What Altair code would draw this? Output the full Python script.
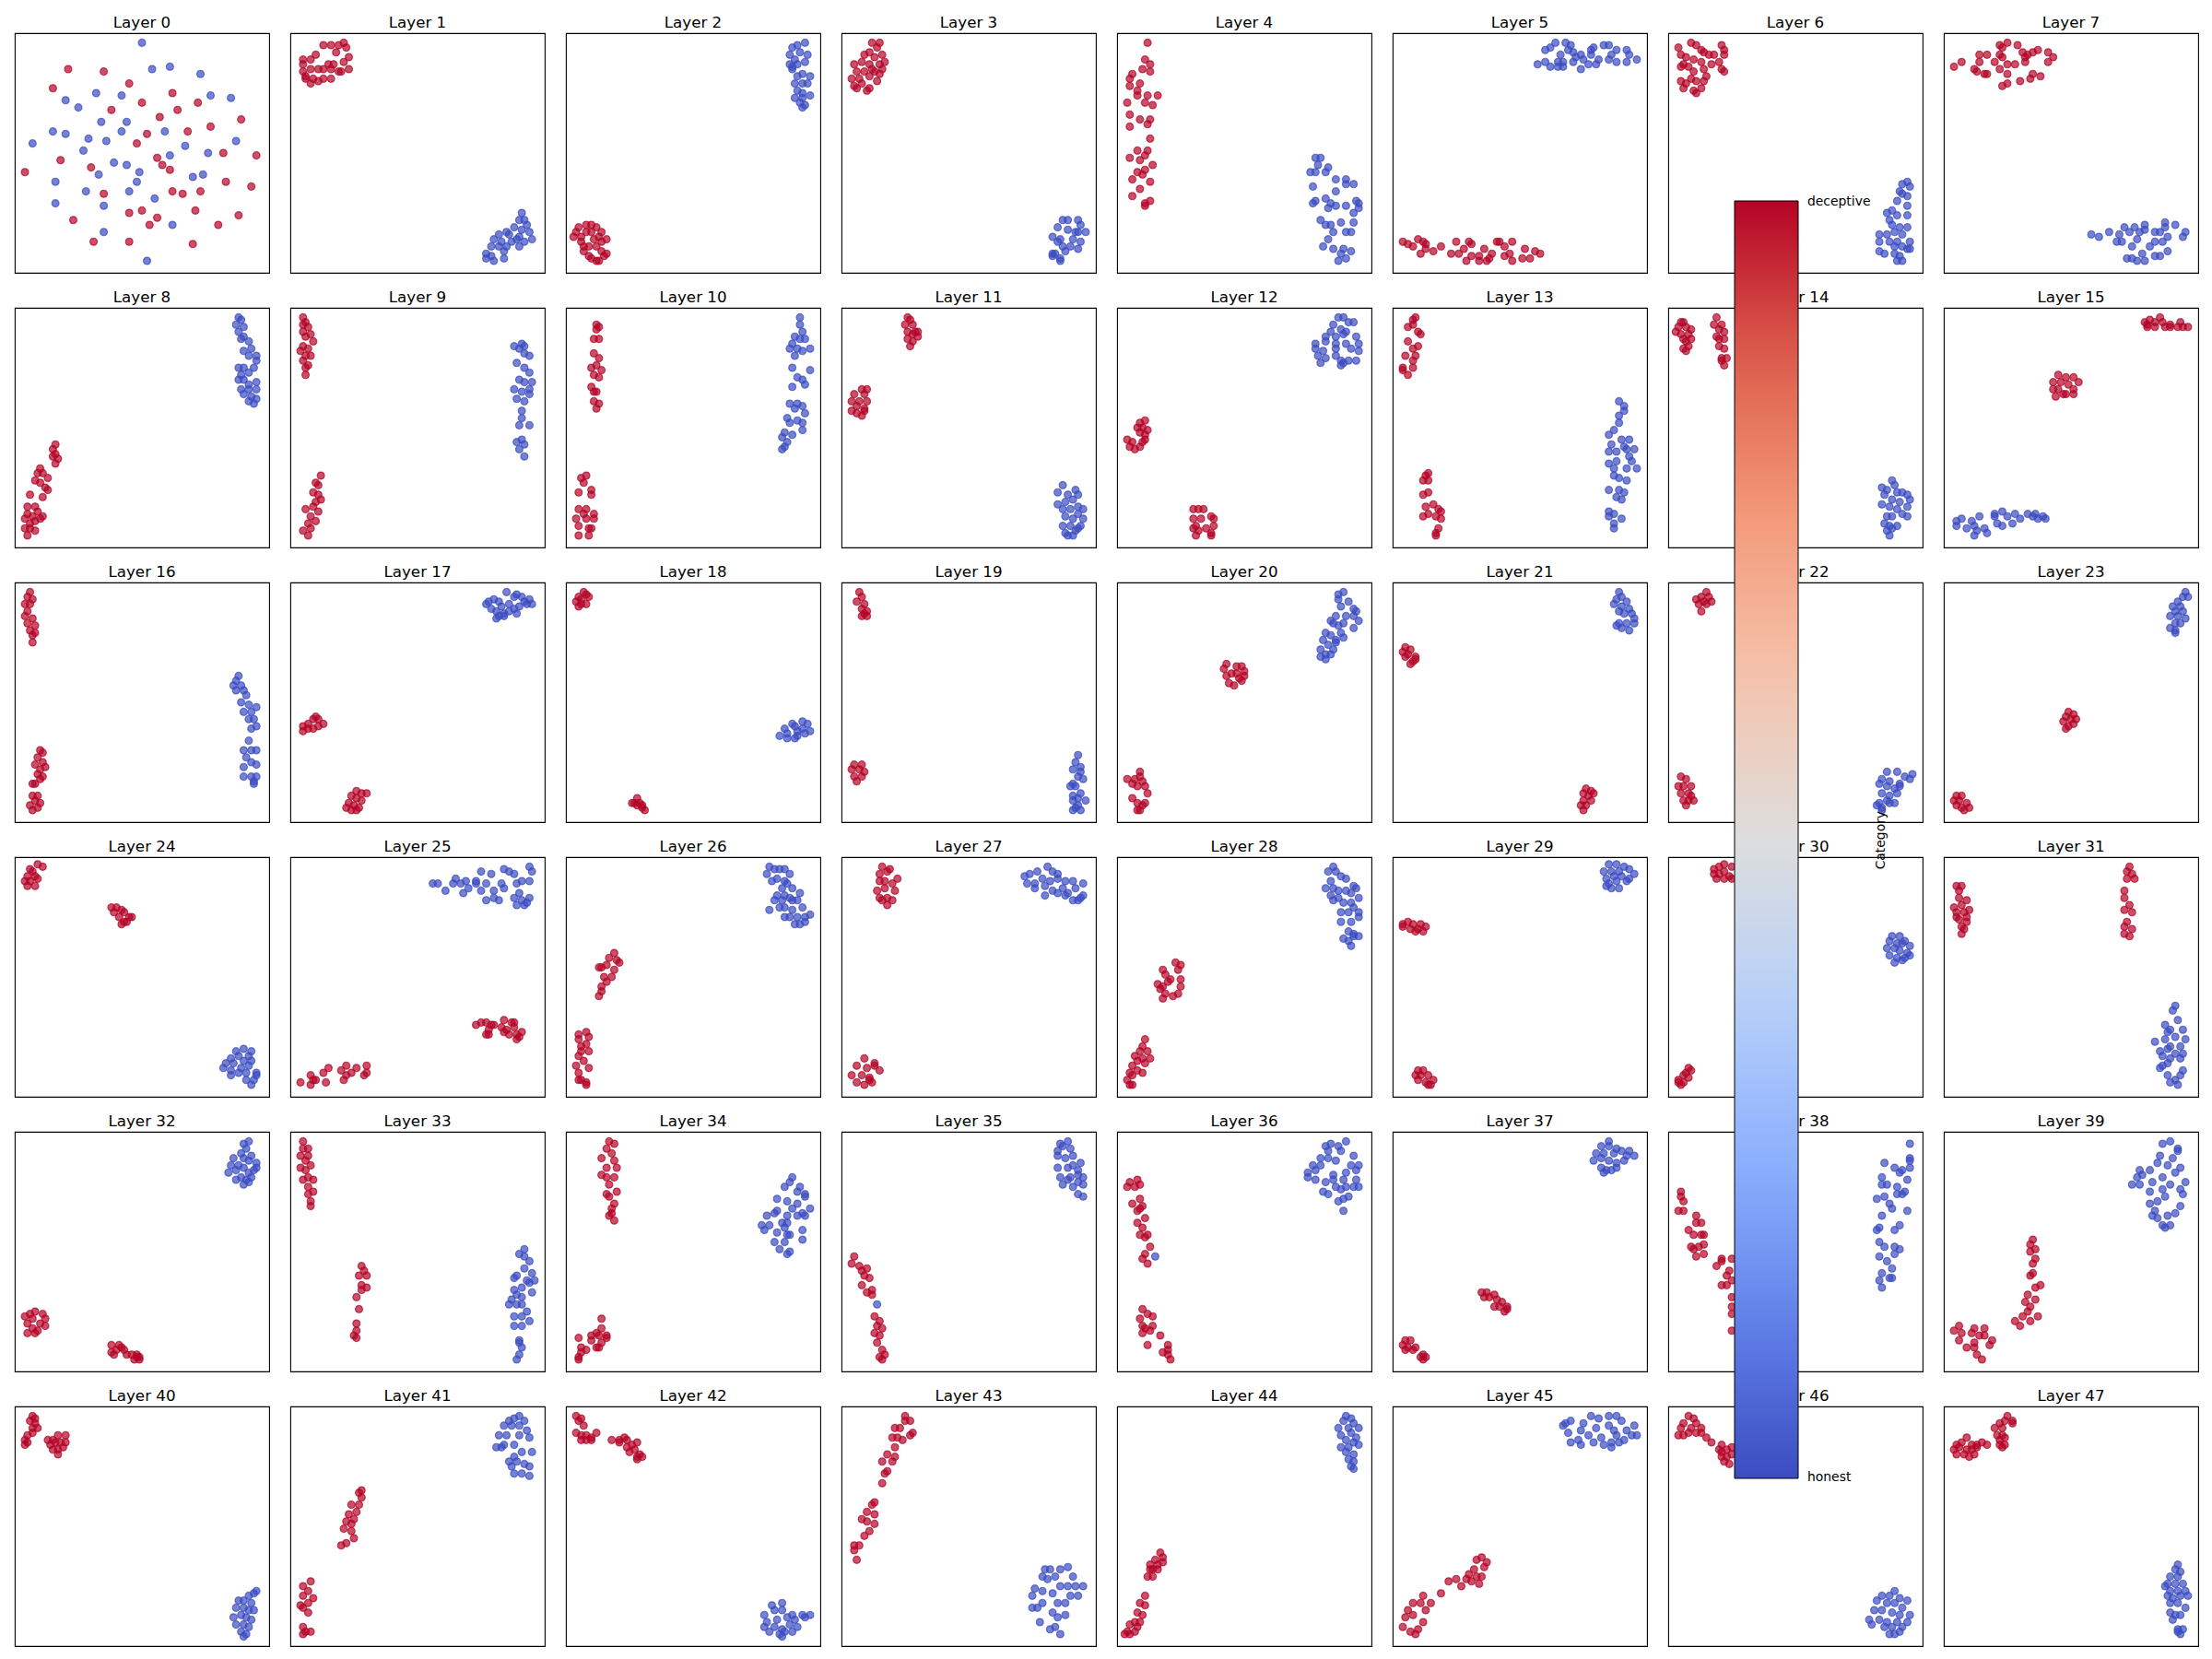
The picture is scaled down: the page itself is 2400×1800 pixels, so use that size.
import altair as alt
import pandas as pd

# Points, in panel-relative units (0..100 on both axes).
HONEST = {
0: [(50,96),(54,85),(61,86),(73,83),(32,75),(42,74),(20,72),(25,69),(77,74),(85,73),(34,63),(44,63),(15,59),(20,58),(42,59),(59,59),(7,54),(29,56),(36,55),(67,53),(87,55),(27,51),(76,50),(61,49),(39,46),(44,45),(49,42),(33,41),(16,38),(70,40),(74,41),(48,38),(28,34),(45,34),(16,29),(35,28),(55,31),(62,20),(35,17),(52,5)],
1: [(91,25),(92,22),(93,20),(90,22),(88,19),(91,18),(94,17),(95,14),(92,13),(90,11),(89,14),(86,16),(85,17),(82,16),(80,14),(83,13),(85,11),(82,11),(79,11),(77,8),(79,7),(84,9),(84,6),(77,6),(80,5),(87,13),(90,15)],
2: [(94,96),(91,95),(89,94),(88,91),(92,92),(95,91),(94,88),(90,89),(88,87),(91,87),(89,85),(93,83),(96,82),(91,82),(90,79),(93,79),(95,79),(91,76),(93,75),(96,74),(90,73),(93,73),(92,71),(93,69),(94,70),(89,86)],
3: [(87,22),(89,22),(93,22),(94,20),(96,17),(92,17),(89,18),(85,19),(83,15),(86,14),(91,14),(94,13),(93,10),(90,11),(87,11),(85,13),(83,8),(84,8),(86,6),(86,5),(88,9),(93,17),(83,7)],
4: [(78,48),(80,48),(79,45),(83,44),(76,42),(78,42),(82,42),(86,39),(90,39),(93,37),(90,37),(77,36),(86,34),(82,31),(78,30),(77,29),(84,29),(86,28),(90,28),(83,27),(94,30),(95,29),(95,27),(93,25),(80,22),(82,20),(84,20),(88,21),(93,21),(85,17),(90,17),(92,17),(83,14),(81,11),(85,10),(89,10),(92,9),(88,8),(90,6),(87,5)],
5: [(57,87),(60,88),(62,86),(60,93),(62,94),(64,96),(68,96),(70,95),(71,92),(66,91),(65,88),(65,86),(67,86),(67,88),(71,88),(74,85),(74,91),(72,90),(77,87),(78,93),(79,94),(78,91),(80,87),(81,89),(83,95),(85,95),(85,89),(88,93),(86,91),(88,88),(92,93),(92,88),(93,91),(96,89),(75,89),(69,93)],
6: [(94,38),(92,37),(95,36),(91,34),(92,33),(94,32),(90,30),(94,28),(86,25),(88,26),(90,24),(94,24),(87,22),(88,20),(91,19),(94,19),(83,16),(86,16),(89,17),(92,16),(83,13),(87,13),(90,13),(95,13),(89,11),(92,11),(94,10),(95,10),(83,9),(85,8),(89,8),(90,5),(92,5),(91,7)],
7: [(58,16),(61,15),(65,17),(68,13),(69,16),(71,19),(73,17),(75,19),(74,11),(76,14),(77,17),(79,20),(79,18),(74,6),(76,5),(78,8),(79,5),(81,11),(83,17),(83,13),(85,17),(86,13),(83,7),(85,7),(87,21),(87,19),(88,15),(91,20),(88,9),(95,17),(94,15),(70,13),(72,6)],
8: [(88,96),(89,95),(87,93),(90,92),(88,90),(90,88),(89,87),(92,86),(90,82),(93,83),(95,80),(92,80),(95,78),(88,75),(90,75),(94,75),(89,72),(92,73),(88,70),(90,70),(92,68),(95,69),(89,66),(92,66),(95,66),(90,64),(93,63),(95,62),(92,61),(94,60)],
9: [(88,84),(91,85),(92,84),(90,83),(92,81),(94,80),(89,77),(92,75),(94,73),(90,70),(92,69),(95,69),(94,66),(88,66),(91,65),(94,64),(89,62),(92,61),(91,57),(91,54),(90,51),(94,51),(91,45),(89,44),(92,43),(90,41),(92,38)],
10: [(92,96),(92,93),(93,90),(90,88),(92,87),(94,87),(89,85),(91,83),(88,83),(93,82),(96,83),(90,80),(89,75),(96,74),(91,71),(93,70),(94,68),(89,67),(88,60),(91,60),(93,59),(90,58),(94,56),(87,54),(91,53),(88,52),(93,52),(93,49),(86,48),(89,47),(85,46),(87,44),(86,42),(85,41)],
11: [(87,26),(92,24),(85,23),(89,22),(93,22),(85,18),(88,19),(91,20),(93,17),(87,16),(90,16),(93,14),(95,16),(88,13),(91,12),(95,12),(87,9),(90,9),(93,8),(94,9),(88,6),(91,5),(89,5),(92,7)],
12: [(87,96),(89,96),(91,94),(93,94),(85,93),(88,91),(90,90),(84,90),(82,88),(86,88),(89,89),(94,88),(78,85),(82,86),(86,85),(90,85),(95,85),(78,83),(81,82),(86,83),(92,83),(95,82),(79,80),(82,79),(86,80),(88,78),(91,78),(94,78),(80,77),(88,76),(89,77)],
13: [(89,61),(91,59),(91,57),(89,55),(89,52),(87,49),(85,47),(90,45),(93,45),(86,43),(91,42),(92,41),(95,41),(85,40),(88,40),(93,38),(85,35),(88,36),(94,36),(87,33),(92,33),(96,33),(87,30),(89,29),(92,28),(85,24),(89,24),(91,23),(88,21),(90,20),(85,15),(87,14),(85,13),(90,12),(87,10),(87,8)],
14: [(88,28),(89,26),(84,25),(86,24),(90,23),(92,23),(94,22),(95,20),(85,22),(88,20),(91,19),(84,18),(87,17),(90,16),(94,17),(86,13),(88,13),(92,14),(94,13),(85,10),(87,9),(90,9),(86,7),(88,8),(87,5)],
15: [(5,11),(5,9),(7,12),(9,8),(11,11),(12,9),(14,13),(13,7),(12,5),(16,8),(17,6),(20,13),(21,10),(23,15),(23,9),(25,13),(27,10),(28,14),(30,12),(33,14),(35,13),(36,14),(37,12),(39,13),(40,12),(20,14)],
16: [(88,61),(87,59),(89,57),(86,57),(90,55),(87,55),(91,53),(89,50),(92,49),(95,48),(90,46),(93,46),(92,43),(94,43),(95,40),(93,39),(92,34),(90,30),(93,30),(95,30),(91,27),(93,25),(95,24),(90,23),(93,19),(95,19),(90,19),(94,17),(94,16)],
17: [(85,96),(89,95),(77,91),(78,92),(80,93),(82,92),(79,89),(81,88),(83,90),(86,91),(88,94),(91,94),(94,93),(95,91),(93,91),(90,90),(88,89),(86,88),(84,87),(82,86),(81,85),(84,86),(89,87),(92,92)],
18: [(89,41),(93,42),(95,41),(86,39),(90,40),(93,39),(96,38),(84,36),(87,37),(91,36),(94,37),(90,35),(87,35),(91,38)],
19: [(93,28),(92,25),(94,23),(91,22),(94,21),(93,19),(91,16),(95,18),(92,15),(90,15),(94,12),(91,11),(93,10),(91,9),(96,9),(93,7),(91,5),(94,5),(92,6)],
20: [(87,95),(89,96),(87,93),(91,92),(88,90),(93,89),(94,88),(90,86),(93,86),(86,86),(95,84),(84,84),(85,83),(87,82),(89,83),(93,81),(82,79),(84,78),(86,76),(88,79),(89,77),(81,76),(83,74),(80,72),(85,72),(82,70),(84,70),(80,69),(82,68),(86,75)],
21: [(89,96),(90,94),(88,93),(92,92),(87,91),(90,90),(93,89),(89,88),(94,87),(91,87),(95,85),(89,83),(92,83),(95,83),(90,81),(93,80),(88,82)],
22: [(86,21),(90,21),(93,19),(96,20),(84,18),(87,17),(91,16),(95,18),(83,16),(86,15),(89,14),(91,15),(84,12),(87,11),(90,12),(86,9),(89,8),(83,8),(84,6),(82,7),(87,8),(84,5)],
23: [(95,96),(94,94),(96,94),(92,92),(90,90),(93,90),(91,88),(94,88),(89,86),(92,86),(95,85),(91,83),(93,83),(89,81),(91,80),(91,79)],
24: [(87,19),(90,20),(93,19),(85,16),(88,17),(92,17),(83,14),(86,14),(90,15),(93,15),(82,12),(85,11),(89,12),(92,13),(85,9),(88,10),(91,10),(95,10),(91,7),(94,7),(93,5),(95,9)],
25: [(56,89),(58,89),(61,86),(65,91),(67,89),(68,85),(69,90),(73,90),(73,89),(75,94),(75,86),(77,89),(79,93),(80,86),(77,82),(80,83),(82,82),(83,89),(84,95),(84,87),(86,94),(88,93),(89,89),(91,90),(88,83),(90,85),(89,80),(92,80),(91,82),(94,83),(94,96),(95,94),(94,90),(70,87),(64,89),(93,81)],
26: [(80,96),(82,95),(84,95),(86,95),(79,93),(88,93),(81,90),(83,91),(86,90),(87,89),(85,87),(89,87),(92,85),(83,84),(86,84),(88,83),(91,82),(82,82),(85,82),(89,82),(80,78),(84,79),(86,79),(89,78),(93,79),(86,75),(88,75),(91,75),(94,75),(96,76),(90,72),(92,72),(94,73)],
27: [(72,92),(74,93),(77,94),(81,96),(83,94),(85,93),(73,89),(76,89),(79,91),(82,90),(85,91),(88,90),(91,90),(95,89),(76,87),(80,88),(83,86),(87,87),(89,85),(92,87),(80,84),(85,85),(88,84),(91,82),(93,82),(94,83),(95,84)],
28: [(85,96),(83,94),(86,94),(88,92),(84,90),(90,91),(82,87),(85,87),(87,86),(90,86),(93,88),(94,87),(84,84),(87,83),(92,85),(95,83),(85,82),(89,81),(92,81),(93,79),(88,77),(91,77),(95,77),(88,73),(92,73),(95,75),(91,69),(93,68),(95,67),(89,66),(91,65),(92,63),(93,67)],
29: [(85,97),(88,97),(91,96),(93,95),(83,94),(86,94),(89,94),(95,93),(84,91),(87,92),(90,92),(93,91),(85,89),(88,90),(92,90),(86,87),(89,87),(84,88)],
30: [(88,67),(91,67),(93,65),(87,65),(90,64),(92,64),(95,63),(86,62),(89,62),(91,61),(94,60),(87,59),(90,58),(93,58),(95,59),(89,56),(92,57)],
31: [(91,38),(90,36),(92,32),(87,30),(89,28),(94,28),(88,27),(91,25),(95,24),(83,23),(87,24),(89,21),(93,21),(85,19),(88,20),(91,18),(94,18),(86,17),(89,16),(93,16),(85,12),(88,14),(94,11),(88,9),(91,7),(93,9),(89,6),(92,5),(86,13)],
32: [(92,96),(90,95),(91,93),(89,91),(93,90),(86,89),(90,89),(92,88),(95,87),(85,86),(88,86),(90,85),(94,84),(95,85),(84,83),(87,84),(92,83),(89,81),(93,81),(87,80),(91,80),(90,78),(92,79)],
33: [(92,51),(90,49),(92,48),(94,46),(88,39),(89,40),(92,43),(95,41),(93,38),(96,38),(94,37),(88,34),(91,35),(95,33),(89,32),(87,30),(91,31),(86,28),(89,28),(91,28),(93,25),(88,23),(91,23),(94,21),(88,19),(91,19),(90,13),(90,12),(91,10),(90,7),(89,5)],
34: [(89,81),(88,79),(86,77),(92,77),(91,75),(94,74),(94,73),(83,72),(87,71),(91,70),(89,68),(96,68),(93,66),(94,65),(83,67),(87,65),(91,65),(79,65),(82,66),(85,62),(87,62),(77,61),(80,61),(78,59),(83,58),(86,60),(88,57),(87,57),(93,59),(93,55),(82,54),(86,54),(84,51),(87,49),(88,50)],
35: [(86,95),(89,96),(85,92),(87,94),(90,93),(88,89),(91,90),(94,87),(85,85),(89,85),(91,86),(93,84),(86,81),(90,81),(93,82),(95,81),(87,78),(91,77),(93,79),(95,78),(93,74),(95,73),(89,80),(85,90),(14,28)],
36: [(82,94),(84,95),(87,94),(90,96),(83,92),(88,92),(93,90),(80,89),(83,89),(86,88),(77,86),(80,86),(92,86),(95,86),(75,83),(78,84),(85,82),(90,83),(94,84),(75,81),(78,80),(82,79),(85,80),(89,80),(94,80),(86,77),(88,76),(90,77),(93,77),(95,77),(81,75),(83,74),(89,72),(91,73),(87,71),(89,67),(15,48)],
37: [(85,96),(82,94),(85,94),(88,93),(90,92),(93,92),(95,90),(80,91),(83,91),(87,91),(92,90),(79,88),(82,89),(85,88),(88,87),(91,88),(82,85),(84,84),(86,84),(88,85),(83,83)],
38: [(95,95),(95,89),(95,88),(85,87),(89,85),(92,84),(95,85),(91,83),(94,80),(84,81),(84,78),(86,78),(90,77),(93,75),(82,72),(85,73),(90,74),(92,74),(87,70),(88,68),(94,67),(84,65),(91,61),(83,60),(82,59),(89,59),(83,54),(85,52),(89,52),(91,51),(89,49),(83,48),(86,46),(88,43),(84,41),(83,38),(87,39),(88,39),(84,35)],
39: [(86,95),(89,96),(92,93),(92,92),(85,90),(84,87),(88,86),(90,89),(93,85),(81,84),(77,84),(78,82),(76,81),(91,83),(86,81),(74,78),(77,78),(82,79),(86,76),(89,78),(93,76),(95,79),(81,75),(87,73),(94,74),(81,70),(84,71),(93,69),(83,67),(88,65),(91,66),(82,65),(84,64),(86,61),(89,61),(87,60)],
40: [(95,23),(94,22),(92,21),(88,19),(90,19),(93,18),(87,16),(90,16),(92,15),(94,15),(86,12),(89,13),(91,12),(93,11),(87,9),(90,9),(92,8),(89,6),(91,5),(90,4)],
41: [(86,94),(88,95),(90,96),(92,94),(84,92),(87,92),(90,92),(93,90),(82,88),(85,88),(90,88),(94,87),(81,83),(84,84),(88,84),(91,81),(95,81),(88,79),(86,77),(89,77),(92,76),(94,75),(87,75),(88,72),(91,72),(94,71),(83,83)],
42: [(81,17),(85,18),(78,13),(82,15),(85,15),(89,13),(93,13),(96,13),(79,10),(83,11),(87,12),(90,11),(94,12),(78,8),(82,8),(85,7),(88,9),(91,8),(80,6),(84,5),(86,6),(89,6),(85,4)],
43: [(80,32),(82,32),(86,32),(89,33),(79,29),(81,28),(84,29),(91,29),(76,24),(79,23),(83,22),(86,25),(89,25),(92,25),(95,25),(93,21),(90,21),(75,21),(77,16),(79,18),(75,16),(83,14),(85,18),(88,18),(85,12),(88,13),(78,10),(82,7),(86,5),(84,8)],
44: [(90,96),(92,95),(89,94),(93,93),(87,91),(91,91),(95,91),(88,88),(92,89),(94,87),(90,86),(93,85),(88,83),(91,83),(95,84),(90,81),(93,80),(91,78),(93,77),(92,75),(93,74)],
45: [(67,92),(68,93),(70,94),(75,93),(78,96),(81,95),(85,96),(88,96),(90,94),(69,89),(73,86),(74,90),(77,88),(80,91),(82,87),(85,92),(87,90),(88,88),(92,90),(95,92),(96,88),(70,85),(74,84),(79,85),(83,84),(86,83),(89,85),(94,88),(91,86),(86,85)],
46: [(89,23),(87,21),(91,20),(84,21),(82,19),(94,19),(86,18),(89,18),(92,16),(81,15),(84,15),(88,14),(91,13),(95,13),(79,11),(83,11),(86,10),(90,10),(94,10),(80,9),(85,8),(88,8),(92,8),(87,5),(89,5),(91,6)],
47: [(92,34),(91,32),(93,31),(89,29),(92,29),(88,26),(91,26),(94,26),(87,25),(89,23),(92,23),(95,23),(88,21),(90,20),(93,21),(96,21),(89,18),(92,18),(95,16),(89,14),(91,13),(93,13),(90,11),(92,7),(94,7),(93,5),(92,6)],
}

DECEPTIVE = {
0: [(21,85),(35,84),(15,77),(45,79),(62,75),(50,71),(72,71),(38,68),(64,68),(57,65),(89,64),(77,61),(68,59),(52,58),(48,54),(82,50),(95,49),(18,47),(56,48),(58,45),(30,44),(61,43),(4,42),(83,38),(93,36),(35,33),(62,34),(66,33),(73,34),(45,25),(50,26),(71,26),(56,23),(88,24),(23,22),(53,20),(80,20),(31,13),(45,13),(70,12)],
1: [(13,95),(16,95),(19,95),(21,96),(22,94),(18,92),(23,90),(10,91),(8,89),(5,89),(5,87),(15,87),(17,87),(21,88),(23,85),(11,85),(13,85),(16,85),(19,84),(8,85),(5,84),(6,82),(9,81),(11,80),(13,81),(16,81),(20,84),(6,81),(8,79)],
2: [(5,19),(8,20),(10,20),(12,19),(14,17),(16,14),(14,13),(11,14),(8,17),(6,15),(3,15),(6,13),(9,11),(12,11),(14,9),(15,7),(13,5),(12,5),(10,6),(7,9),(7,11),(4,17),(10,17),(13,15),(9,7),(16,8)],
3: [(12,96),(15,96),(14,94),(11,92),(9,91),(16,91),(13,90),(5,87),(8,88),(11,87),(15,87),(17,88),(6,84),(9,84),(13,84),(15,83),(4,81),(7,81),(11,82),(14,80),(5,78),(8,79),(11,77),(10,76),(6,77),(12,85),(16,85)],
4: [(12,96),(11,89),(13,87),(10,85),(13,84),(6,83),(5,81),(9,79),(5,78),(8,76),(8,74),(12,74),(16,74),(4,71),(11,71),(14,70),(5,66),(9,64),(13,64),(5,61),(12,62),(13,56),(8,51),(12,51),(5,48),(9,47),(11,49),(14,45),(11,43),(8,42),(6,39),(10,41),(13,38),(9,35),(6,32),(11,29),(13,30),(11,28)],
5: [(4,13),(6,12),(8,11),(10,14),(12,13),(13,12),(11,8),(13,10),(16,9),(19,11),(23,8),(25,13),(26,8),(28,10),(30,13),(31,12),(29,5),(31,7),(34,5),(36,10),(37,5),(38,6),(39,8),(41,13),(42,13),(44,11),(44,7),(47,13),(46,8),(47,5),(51,6),(52,10),(54,6),(56,9),(58,8),(34,7)],
6: [(4,94),(9,96),(11,95),(21,95),(22,93),(5,91),(7,90),(13,93),(14,92),(10,89),(16,91),(18,91),(22,91),(20,88),(13,88),(6,87),(8,86),(17,87),(5,86),(21,85),(14,85),(10,84),(22,84),(5,80),(7,79),(9,81),(11,80),(14,80),(15,82),(6,77),(10,76),(13,77),(11,75)],
7: [(4,86),(7,88),(12,85),(14,91),(14,88),(17,91),(16,83),(17,83),(20,88),(22,95),(23,94),(25,96),(22,91),(23,90),(22,85),(25,87),(25,83),(23,78),(25,79),(28,87),(29,95),(30,80),(31,92),(32,90),(33,91),(32,88),(34,81),(35,83),(37,93),(35,92),(38,82),(41,92),(41,88),(43,90),(13,84)],
8: [(16,43),(15,41),(16,39),(15,38),(17,37),(16,35),(10,33),(9,31),(11,31),(13,29),(8,28),(10,27),(12,25),(13,24),(11,21),(6,22),(5,17),(8,17),(9,15),(5,14),(7,13),(11,13),(4,12),(8,11),(6,10),(10,12),(4,8),(6,8),(8,7),(5,5)],
9: [(5,96),(6,94),(5,93),(7,92),(5,90),(8,89),(6,88),(9,86),(5,84),(7,83),(4,82),(6,80),(8,80),(5,78),(7,76),(6,75),(6,72),
    (12,30),(10,27),(11,26),(9,23),(11,22),(12,20),(10,19),(9,17),(6,16),(11,15),(8,13),(10,11),(7,10),(8,8),(5,7),(7,5)],
10: [(12,93),(12,91),(13,92),(11,87),(13,87),(11,81),(13,79),(10,75),(12,76),(14,74),(11,72),(13,71),(10,67),(11,65),(12,65),(11,61),(13,60),(12,58),
     (8,30),(6,29),(7,27),(10,24),(5,23),(10,22),(5,16),(8,16),(7,14),(11,14),(4,12),(8,12),(11,12),(5,9),(10,8),(5,5),(9,5),(9,8)],
11: [(26,96),(27,95),(25,93),(28,93),(30,90),(26,90),(28,89),(30,88),(26,87),(28,86),(27,84),(29,90),
     (8,66),(10,66),(5,64),(9,64),(4,61),(7,61),(10,61),(6,59),(9,58),(4,57),(6,56),(9,57),(8,55)],
12: [(11,53),(9,52),(10,50),(12,49),(8,50),(9,48),(11,47),(4,45),(6,44),(10,44),(5,42),(7,41),(9,42),(11,45),
     (30,16),(32,16),(34,16),(37,13),(30,12),(33,12),(38,12),(31,9),(35,8),(38,9),(30,8),(32,7),(37,6),(31,5),(37,5)],
13: [(9,96),(8,95),(8,93),(6,92),(10,90),(11,89),(6,86),(10,84),(8,83),(5,80),(9,80),(8,78),(4,75),(8,75),(6,72),(4,74),
     (14,31),(13,30),(14,28),(12,28),(14,23),(12,22),(13,17),(16,18),(18,16),(19,15),(14,14),(17,13),(19,12),(12,13),(18,8),(17,6),(17,5)],
14: [(5,94),(6,94),(4,92),(7,92),(9,91),(5,89),(8,89),(3,90),(6,87),(9,87),(7,86),(6,83),(8,84),(7,82),
     (19,96),(18,93),(21,93),(20,91),(22,90),(19,88),(20,87),(22,87),(20,84),(22,83),(21,79),(23,79),(21,78),(22,76)],
15: [(79,94),(81,95),(83,94),(85,96),(86,94),(80,92),(83,92),(87,92),(89,92),(93,94),(94,92),(96,92),(92,92),(80,93),(89,93),
     (45,72),(48,71),(51,71),(53,69),(43,69),(46,69),(49,68),(43,66),(45,66),(51,66),(48,64),(44,63),(51,64),(47,64)],
16: [(6,96),(5,94),(7,93),(4,91),(6,91),(5,88),(4,86),(7,85),(5,83),(8,82),(6,80),(8,79),(7,78),(7,75),
     (10,30),(11,29),(9,27),(11,25),(8,24),(12,23),(10,22),(9,20),(11,19),(10,18),(8,16),(7,16),
     (7,11),(9,11),(8,9),(10,8),(6,7),(9,6),(7,5)],
17: [(5,40),(7,41),(5,38),(9,43),(10,44),(11,43),(13,41),(11,40),(9,39),(7,39),
     (26,13),(28,12),(30,12),(24,11),(26,10),(28,9),(23,8),(25,7),(27,6),(22,6),(24,5),(26,5)],
18: [(7,96),(8,95),(5,94),(6,93),(9,94),(4,92),(6,91),(8,91),(5,90),
     (28,10),(26,8),(29,8),(30,7),(28,7),(31,5),(30,6),(27,8)],
19: [(7,96),(8,94),(6,92),(9,91),(8,89),(10,88),(8,86),(10,86),(9,87),
     (5,24),(8,24),(4,22),(7,22),(9,21),(5,19),(8,19),(6,17)],
20: [(43,66),(47,65),(49,65),(50,63),(42,64),(45,62),(47,62),(50,61),(43,61),(44,58),(46,57),(49,59),(48,60),
     (9,21),(4,18),(7,18),(9,19),(10,17),(6,16),(8,15),(11,15),(12,12),(6,10),(8,8),(10,7),(8,5),(9,5),(11,8)],
21: [(5,73),(7,72),(4,71),(6,70),(9,69),(5,69),(8,67),(7,66),(9,68),
     (76,14),(78,13),(75,12),(79,12),(77,11),(75,9),(78,9),(74,7),(76,7),(75,5)],
22: [(15,96),(16,94),(13,94),(11,93),(14,92),(17,92),(12,91),(15,91),(13,88),
     (5,19),(7,18),(4,15),(6,15),(9,15),(5,12),(8,12),(9,11),(6,9),(8,9),(10,9),(7,7)],
23: [(49,46),(51,45),(48,44),(52,43),(50,43),(47,42),(49,40),(48,39),(51,41),
     (5,11),(7,11),(4,9),(6,9),(9,8),(5,7),(7,6),(10,6),(8,5)],
24: [(9,97),(11,96),(6,95),(7,94),(5,92),(8,92),(4,90),(6,90),(9,91),(5,88),(8,88),
     (38,79),(40,79),(42,78),(39,77),(43,77),(41,75),(45,75),(46,75),(43,73),(42,72),(44,73)],
25: [(73,30),(75,31),(77,31),(79,30),(80,30),(78,28),(84,32),(87,31),(88,31),(83,29),(85,28),(88,29),(91,27),(77,26),(78,26),(84,27),(86,26),(89,26),(90,25),(89,24),
     (4,6),(8,9),(8,5),(9,7),(10,7),(13,10),(14,6),(15,12),(20,11),(21,7),(22,9),(22,13),(26,12),(24,10),(30,13),(30,10),(29,9)],
26: [(19,60),(17,58),(20,57),(21,56),(14,54),(13,54),(16,55),(19,53),(15,50),(18,50),(16,48),(14,46),(14,44),(13,42),
     (8,27),(5,26),(9,25),(5,24),(8,22),(6,21),(9,19),(6,19),(5,17),(7,15),(4,13),(9,12),(5,10),(6,7),(8,6),(8,5),(5,7)],
27: [(16,96),(19,95),(15,93),(18,94),(22,91),(15,90),(17,90),(20,89),(17,87),(14,86),(21,86),(15,83),(18,83),(20,82),(16,82),(18,80),
     (9,16),(13,14),(13,13),(6,13),(10,12),(15,11),(4,9),(8,9),(11,8),(12,6),(6,6),(9,5),(11,7)],
28: [(23,56),(25,55),(24,53),(18,53),(19,51),(21,49),(20,48),(25,49),(16,47),(18,46),(25,46),(17,45),(19,43),(22,42),(24,43),(18,41),
     (11,24),(10,21),(9,19),(12,19),(7,17),(10,16),(13,16),(8,15),(6,13),(11,14),(8,11),(5,10),(10,10),(6,9),(4,7),(6,5),(5,5)],
29: [(4,72),(6,73),(8,72),(11,72),(13,71),(4,71),(7,70),(10,70),(12,69),(9,69),
     (10,11),(12,11),(9,9),(11,9),(14,9),(16,7),(10,7),(13,6),(15,5),(14,5)],
30: [(18,95),(20,96),(22,97),(25,96),(18,93),(20,93),(22,94),(24,92),(19,91),(22,91),(25,91),
     (8,12),(7,10),(9,11),(6,9),(8,8),(4,7),(6,6),(5,5),(4,6)],
31: [(5,88),(7,88),(6,86),(6,83),(9,82),(4,79),(7,80),(10,78),(8,77),(9,75),(5,75),(6,74),(9,73),(7,71),(8,70),(7,68),(5,77),
     (73,96),(72,94),(74,93),(72,91),(75,91),(71,86),(71,83),(73,80),(71,78),(74,77),(72,73),(71,71),(74,70),(71,68),(73,67)],
32: [(6,24),(8,25),(11,24),(4,23),(12,22),(7,22),(5,20),(10,20),(12,19),(7,18),(9,17),(5,16),(8,16),
     (38,11),(41,11),(42,10),(38,8),(40,9),(43,9),(44,7),(39,7),(46,7),(48,7),(49,6),(47,5),(49,5),(48,6)],
33: [(5,96),(5,93),(7,93),(4,90),(7,90),(6,88),(4,85),(8,86),(6,84),(5,80),(7,81),(9,80),(7,77),(9,75),(7,74),(8,71),(8,69),
     (28,44),(29,42),(30,40),(27,40),(28,36),(30,35),(26,31),(27,26),(26,20),(26,17),(25,15),(26,14),(28,34)],
34: [(17,96),(19,95),(16,93),(18,91),(14,89),(19,88),(16,85),(20,85),(14,82),(16,81),(19,81),(17,78),(20,75),(16,74),(17,73),(19,70),(18,68),(17,65),(19,63),(18,66),
     (14,22),(14,18),(12,16),(10,15),(16,15),(16,14),(13,15),(10,13),(5,14),(14,12),(12,10),(13,10),(6,10),(8,9),(6,8),(5,6),(5,5)],
35: [(5,48),(4,45),(7,44),(10,43),(8,42),(9,40),(11,39),(8,36),(12,34),(10,33),(12,32),(13,23),(15,21),(14,19),(16,18),(13,16),(15,15),(14,12),(16,9),(17,7),(15,6),(16,5)],
36: [(5,79),(8,80),(4,77),(7,77),(9,78),(9,72),(6,70),(10,69),(9,68),(8,67),(11,64),(8,62),(10,60),(9,57),(12,57),(11,56),(13,52),(11,49),(10,47),(12,45),
     (10,26),(12,24),(14,23),(9,22),(10,19),(11,18),(13,17),(14,19),(10,16),(17,15),(12,11),(20,11),(18,8),(20,9),(20,7),(21,5)],
37: [(35,33),(37,33),(40,32),(36,31),(38,31),(41,30),(43,29),(40,27),(42,27),(45,27),(44,25),(45,26),
     (5,13),(7,13),(4,11),(6,10),(9,10),(5,9),(8,9),(12,7),(13,6),(11,6),(12,5)],
38: [(5,75),(5,73),(6,71),(4,67),(6,67),(11,65),(11,62),(13,62),(8,59),(10,57),(13,57),(14,57),(14,53),(9,52),(10,51),(12,52),(11,48),(14,49),(19,44),(21,46),(21,47),(24,42),(25,47),(23,40),(21,36),(23,36),(25,38),(25,31),(25,27),(25,24),(25,17)],
39: [(35,55),(34,53),(36,51),(34,50),(36,47),(35,45),(35,41),(34,40),(38,36),(36,35),(33,32),(36,30),(32,29),(34,27),(33,25),(31,23),(37,23),(28,21),(34,21),(30,19),
     (6,19),(4,17),(7,16),(12,18),(16,18),(11,16),(14,15),(16,15),(6,13),(12,12),(19,13),(9,10),(12,10),(18,11),(13,7),(15,5)],
40: [(7,96),(8,95),(6,94),(8,93),(7,91),(9,91),(7,89),(5,88),(4,86),(5,85),(4,84),
     (13,86),(15,86),(17,88),(20,88),(14,84),(16,85),(18,85),(20,85),(15,82),(17,82),(17,80),(19,83)],
41: [(28,65),(27,64),(28,62),(24,59),(27,59),(26,56),(23,55),(25,53),(22,52),(24,51),(24,48),(21,49),(25,45),(22,43),(20,42),
     (8,27),(5,25),(7,23),(5,21),(9,20),(4,17),(7,18),(5,16),(7,14),(5,8),(6,6),(8,6),(5,5)],
42: [(4,96),(6,95),(5,94),(7,92),(4,89),(6,88),(8,88),(10,87),(12,89),(6,86),(8,86),(10,86),
     (18,86),(21,86),(23,87),(24,86),(26,84),(28,85),(21,85),(24,83),(27,82),(29,80),(28,79),(30,79),(28,78),(25,81)],
43: [(25,96),(27,94),(25,94),(28,89),(27,88),(21,91),(23,91),(20,87),(22,87),(24,86),(21,83),(18,80),(21,79),(16,77),(20,77),(18,73),(17,72),(16,68),(13,60),(12,59),(10,56),(13,55),(8,53),(10,52),(13,51),(11,48),(9,46),(5,42),(7,42),(5,40),(6,36)],
44: [(17,39),(18,37),(15,36),(13,34),(16,34),(18,35),(13,32),(14,32),(16,32),(12,29),(14,29),
     (11,21),(9,18),(11,17),(8,14),(10,13),(7,10),(9,10),(5,9),(8,8),(4,6),(7,6),(5,5),(3,5)],
45: [(33,36),(35,37),(37,35),(32,32),(36,33),(30,30),(33,29),(35,29),(22,27),(25,28),(29,28),(31,27),(27,25),(34,26),(19,22),(12,21),(8,18),(11,18),(15,18),(6,15),(13,15),(8,13),(5,12),(12,10),(4,8),(7,6),(10,7),(9,5)],
46: [(8,96),(10,95),(6,93),(5,91),(9,91),(11,93),(13,91),(4,88),(6,88),(8,89),(11,89),(13,89),(15,87),(17,85),(21,84),(20,82),(23,82),(25,83),(21,79),(23,79),(25,80),(22,77),(24,76),(21,81)],
47: [(25,96),(27,94),(24,94),(22,93),(27,93),(20,91),(23,91),(23,88),(21,88),(22,86),(24,87),(22,84),(24,84),(23,83),(5,84),(7,85),(9,87),(11,84),(13,84),(15,85),(17,84),(4,82),(6,83),(9,82),(11,82),(13,83),(5,80),(8,80),(10,79),(12,80)],
}

LAYERS = list(range(48))
CATEGORY_CODES = {"honest": 0, "deceptive": 1}
# colorbar label positions (just inside both ends, so the labels are centred on the ends)
COLORBAR_TICKS = [0.001, 0.999]
COOLWARM_STOPS = [0, 0.125, 0.25, 0.375, 0.5, 0.625, 0.75, 0.875, 1]
COOLWARM_COLORS = ["#3b4cc0", "#6282ea", "#8db0fe", "#b8d0f9", "#dddddd",
                   "#f5c4ad", "#f49a7b", "#de604d", "#b40426"]

rows = []
for layer in LAYERS:
    for cat_name, pts in (("honest", HONEST[layer]), ("deceptive", DECEPTIVE[layer])):
        code = CATEGORY_CODES[cat_name]
        for x, y in pts:
            rows.append({"layer": layer, "x": x, "y": y, "cat": code})
df = pd.DataFrame(rows)

PAD_L, PAD_T = 15, 16
FONT = "DejaVu Sans"

cmap = alt.Scale(domain=COOLWARM_STOPS, range=COOLWARM_COLORS, interpolate="rgb")
unit = alt.Scale(domain=[0, 100], nice=False, zero=False)

base = alt.Chart(df).mark_circle(
    size=62, fillOpacity=0.7, strokeOpacity=0.7, strokeWidth=1.2
).encode(
    x=alt.X("x:Q", axis=None, scale=unit),
    y=alt.Y("y:Q", axis=None, scale=unit),
    color=alt.Color(
        "cat:Q", scale=cmap, title=None,
        legend=alt.Legend(
            type="gradient",
            orient="none", legendX=1881 - PAD_L, legendY=198 - PAD_T,
            direction="vertical", gradientLength=1386, gradientThickness=69,
            gradientStrokeColor="black", gradientStrokeWidth=1,
            values=COLORBAR_TICKS,
            labelExpr="datum.value < 0.5 ? 'honest' : 'deceptive'",
            labelFont=FONT, labelFontSize=13.9, labelColor="black",
            labelOffset=10, labelBaseline="middle", padding=0,
        ),
    ),
    stroke=alt.condition("datum.cat > 0.5",
                         alt.value(COOLWARM_COLORS[-1]),
                         alt.value(COOLWARM_COLORS[0])),
).properties(width=276, height=260)

chart = base.facet(
    facet=alt.Facet(
        "layer:O", title=None,
        header=alt.Header(
            labelExpr="'Layer ' + datum.value", labelFont=FONT,
            labelFontSize=16.7, labelColor="black", labelPadding=-11,
            labelBaseline="alphabetic",
        ),
    ),
    columns=8,
    spacing={"row": 17, "column": 21},
).properties(
    padding={"left": PAD_L, "top": PAD_T, "right": 0, "bottom": 0},
    background="white",
    title=alt.TitleParams(
        text="Category", orient="right", angle=270, anchor="middle",
        baseline="alphabetic", offset=-354, dx=-10,
        font=FONT, fontSize=13.9, fontWeight="normal", color="black",
    ),
).configure_view(stroke="black", strokeWidth=1.1)

chart.save("out.html", embed_options={"renderer": "svg", "actions": False})
